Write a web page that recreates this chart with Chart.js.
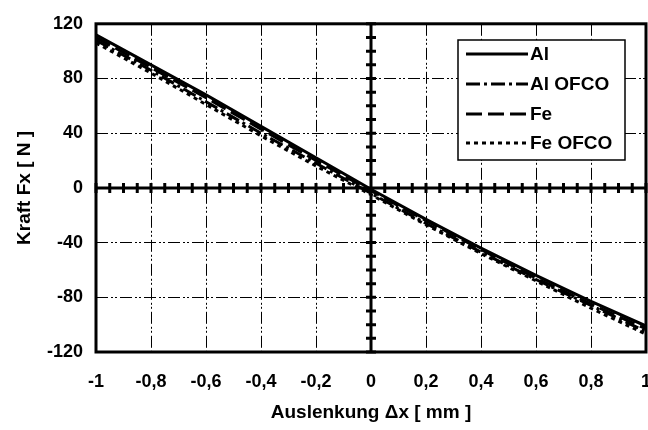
<!DOCTYPE html>
<html>
<head>
<meta charset="utf-8">
<script src="https://cdn.jsdelivr.net/npm/chart.js@4"></script>
<style>
  html, body { margin: 0; padding: 0; background: #fff; }
  #wrap { width: 648px; height: 430px; position: relative; }
</style>
</head>
<body>
<div id="wrap"><canvas id="chart"></canvas></div>
<script>
// displacement [mm]
const auslenkung = [-1, -0.8, -0.6, -0.4, -0.2, 0, 0.2, 0.4, 0.6, 0.8, 1];
// force [N]
const kraftAl     = [112, 90, 68, 45, 22, -1, -23, -44, -64, -83, -101];
const kraftAlOfco = [108, 86, 63, 40, 18, -4, -26, -47, -67, -86, -105];
const kraftFe     = [110, 88, 66, 43, 20, -2, -24, -45, -66, -85, -103];
const kraftFeOfco = [106, 84, 61, 38, 16, -5, -27, -48, -68, -88, -107];

const seriesNames = ['Al', 'Al OFCO', 'Fe', 'Fe OFCO'];
const seriesDash = [[], [14, 4, 3, 4], [16, 6], [4, 4]];

const FONT = 'Liberation Sans, Arial, sans-serif';

const toPoints = (ys) => auslenkung.map((x, i) => ({ x: x, y: ys[i] }));
const fmt = (v) => String(Math.round(v * 100) / 100).replace('.', ',');

// frame, zero axes with small cross ticks, and the boxed legend
const framePlugin = {
  id: 'frame',
  afterDraw(chart) {
    const ctx = chart.ctx;
    const a = chart.chartArea;
    const xs = chart.scales.x, ys = chart.scales.y;
    const x0 = xs.getPixelForValue(0), y0 = ys.getPixelForValue(0);
    ctx.save();
    ctx.strokeStyle = '#000';
    ctx.lineWidth = 3;
    ctx.setLineDash([]);
    ctx.beginPath();
    ctx.moveTo(a.left, y0); ctx.lineTo(a.right, y0);
    ctx.moveTo(x0, a.top); ctx.lineTo(x0, a.bottom);
    for (let v = -1; v <= 1.0001; v += 0.05) {
      const px = xs.getPixelForValue(v);
      ctx.moveTo(px, y0 - 5); ctx.lineTo(px, y0 + 5);
    }
    for (let v = -120; v <= 120; v += 10) {
      const py = ys.getPixelForValue(v);
      ctx.moveTo(x0 - 5, py); ctx.lineTo(x0 + 5, py);
    }
    ctx.stroke();
    ctx.strokeRect(a.left, a.top, a.right - a.left, a.bottom - a.top);

    // legend
    const lx = 458, ly = 40, lw = 167, lh = 120;
    ctx.fillStyle = '#fff';
    ctx.fillRect(lx, ly, lw, lh);
    ctx.lineWidth = 1.5;
    ctx.strokeRect(lx, ly, lw, lh);
    const rows = [54, 84, 114, 143];
    ctx.font = 'bold 19px ' + FONT;
    ctx.textBaseline = 'middle';
    ctx.fillStyle = '#000';
    seriesNames.forEach((name, i) => {
      ctx.lineWidth = 3;
      ctx.setLineDash(seriesDash[i]);
      ctx.beginPath();
      ctx.moveTo(466, rows[i]); ctx.lineTo(528, rows[i]);
      ctx.stroke();
      ctx.setLineDash([]);
      ctx.fillText(name, 530, rows[i] + 1);
    });
    ctx.restore();
  }
};

const datasets = [kraftAl, kraftAlOfco, kraftFe, kraftFeOfco].map((ys, i) => ({
  label: seriesNames[i],
  data: toPoints(ys),
  borderColor: '#000',
  borderWidth: 3,
  borderDash: seriesDash[i],
  pointRadius: 0,
  fill: false,
  tension: 0
}));

new Chart(document.getElementById('chart'), {
  type: 'line',
  data: { datasets: datasets },
  options: {
    responsive: true,
    maintainAspectRatio: false,
    animation: false,
    layout: { padding: { top: 18, right: 2, left: 0, bottom: 0 } },
    plugins: { legend: { display: false }, tooltip: { enabled: false } },
    scales: {
      x: {
        type: 'linear',
        min: -1, max: 1,
        grid: { color: '#000', lineWidth: 1, drawTicks: false },
        border: { display: false, dash: [12, 3, 2, 2, 2, 3] },
        ticks: {
          stepSize: 0.2, color: '#000', padding: 19, maxRotation: 0,
          font: { family: FONT, size: 18, weight: 'bold' },
          callback: (v) => fmt(v)
        },
        title: {
          display: true, text: 'Auslenkung \u0394x [ mm ]', color: '#000',
          font: { family: FONT, size: 19, weight: 'bold' },
          padding: { top: 0, bottom: 6 }
        },
        afterFit(scale) { scale.height = 78; scale.paddingLeft = 0; scale.paddingRight = 0; }
      },
      y: {
        min: -120, max: 120,
        grid: { color: '#000', lineWidth: 1, drawTicks: false },
        border: { display: false, dash: [12, 3, 2, 2, 2, 3] },
        ticks: {
          stepSize: 40, color: '#000', padding: 13,
          font: { family: FONT, size: 18, weight: 'bold' }
        },
        title: {
          display: true, text: 'Kraft Fx [ N ]', color: '#000',
          font: { family: FONT, size: 19, weight: 'bold' },
          padding: { top: 13, bottom: 0 }
        },
        afterFit(scale) { scale.width = 96; }
      }
    }
  },
  plugins: [framePlugin]
});
</script>
</body>
</html>
